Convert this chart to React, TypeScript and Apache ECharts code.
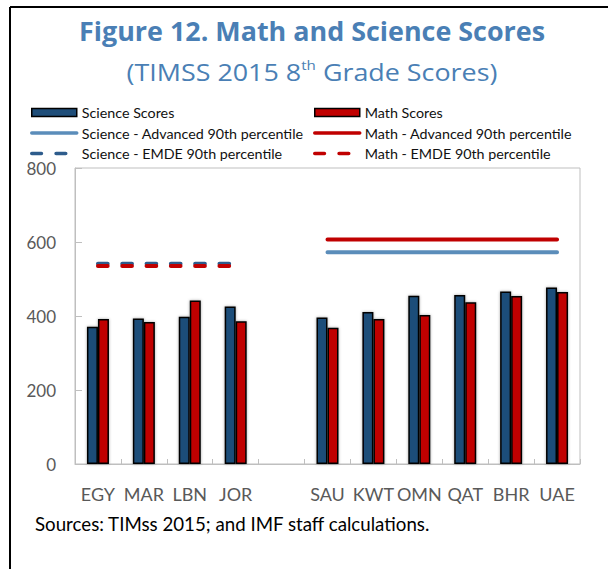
import React, { useEffect, useRef } from "react";
import * as echarts from "echarts";

const categories = ["EGY", "MAR", "LBN", "JOR", "", "SAU", "KWT", "OMN", "QAT", "BHR", "UAE"];
const scienceScores = [371, 393, 398, 426, null, 396, 411, 455, 457, 466, 477];
const mathScores = [392, 384, 442, 386, null, 368, 392, 403, 437, 454, 465];
const scienceAdvanced = [null, null, null, null, null, 572, 572, 572, 572, 572, 572];
const mathAdvanced = [null, null, null, null, null, 607, 607, 607, 607, 607, 607];
const scienceEmde = [541, 541, 541, 541, null, null, null, null, null, null, null];
const mathEmde = [535, 535, 535, 535, null, null, null, null, null, null, null];
const yTicks = { min: 0, max: 800, interval: 200 };

const NAVY = "#1F4E79";
const RED = "#C00000";
const STEEL = "#5B8DBA";
const EMDE_BLUE = "#2E5C8C";
const TITLE = "#4A7FB5";
const FONT = "Lato, 'Noto Sans', sans-serif";
const TFONT = "'Open Sans', 'Noto Sans', sans-serif";

export default function App() {
  const ref = useRef<HTMLDivElement>(null);
  useEffect(() => {
    if (!ref.current) return;
    const chart = echarts.init(ref.current, undefined, { renderer: "svg" });
    const barStyle = (c: string) => ({
      color: c,
      borderColor: "#000",
      borderWidth: 1.5,
      shadowBlur: 3,
      shadowColor: "rgba(0,0,0,0.35)",
    });
    const dash = [9.7, 14.6];
    const hideSym = { opacity: 0 };
    const legendCommon = {
      orient: "vertical" as const,
      top: 102.5,
      padding: 0,
      itemWidth: 45,
      itemHeight: 8,
      itemGap: 0.5,
      selectedMode: false,
      lineStyle: { width: 3.5 },
      textStyle: { fontFamily: FONT, fontSize: 14.3, color: "#111", lineHeight: 20, padding: [0, 0, 0, 0] },
    };
    chart.setOption({
      animation: false,
      textStyle: { fontFamily: FONT },
      grid: {
        left: 75,
        right: 28,
        top: 168,
        bottom: 105,
        show: true,
        borderColor: "#BFBFBF",
        borderWidth: 1,
      },
      legend: [
        {
          ...legendCommon,
          left: 30,
          data: [
            { name: "Science Scores", icon: "rect", itemStyle: { color: NAVY, borderColor: "#000", borderWidth: 1.5 } },
            { name: "Science - Advanced 90th percentile", itemStyle: hideSym },
            { name: "Science - EMDE 90th percentile", itemStyle: hideSym },
          ],
        },
        {
          ...legendCommon,
          left: 313,
          data: [
            { name: "Math Scores", icon: "rect", itemStyle: { color: RED, borderColor: "#000", borderWidth: 1.5 } },
            { name: "Math - Advanced 90th percentile", itemStyle: hideSym },
            { name: "Math - EMDE 90th percentile", itemStyle: hideSym },
          ],
        },
      ],
      xAxis: {
        type: "category",
        data: categories,
        axisLine: { lineStyle: { color: "#BFBFBF", width: 1 } },
        axisTick: { show: true, inside: true, length: 5, interval: 0, lineStyle: { color: "#BFBFBF" } },
        axisLabel: { interval: 0, fontSize: 18, color: "#595959", margin: 21, fontFamily: FONT },
      },
      yAxis: {
        type: "value",
        min: yTicks.min,
        max: yTicks.max,
        interval: yTicks.interval,
        axisLine: { show: true, lineStyle: { color: "#BFBFBF", width: 1 } },
        axisTick: { show: true, inside: true, length: 7, lineStyle: { color: "#BFBFBF" } },
        splitLine: { show: false },
        axisLabel: { fontSize: 17, color: "#595959", margin: 19, fontFamily: FONT },
      },
      series: [
        {
          name: "Science Scores",
          type: "bar",
          data: scienceScores,
          barWidth: 11,
          barGap: "0%",
          itemStyle: barStyle(NAVY),
        },
        {
          name: "Math Scores",
          type: "bar",
          data: mathScores,
          barWidth: 11,
          barGap: "0%",
          itemStyle: barStyle(RED),
        },
        {
          name: "Science - Advanced 90th percentile",
          type: "line",
          data: scienceAdvanced,
          symbol: "none",
          showSymbol: false,
          connectNulls: false,
          lineStyle: { color: STEEL, width: 4, cap: "round" },
          itemStyle: { color: STEEL },
        },
        {
          name: "Math - Advanced 90th percentile",
          type: "line",
          data: mathAdvanced,
          symbol: "none",
          showSymbol: false,
          connectNulls: false,
          lineStyle: { color: RED, width: 4, cap: "round" },
          itemStyle: { color: RED },
        },
        {
          name: "Science - EMDE 90th percentile",
          type: "line",
          data: scienceEmde,
          symbol: "none",
          showSymbol: false,
          connectNulls: false,
          lineStyle: { color: EMDE_BLUE, width: 4, cap: "round", type: dash },
          itemStyle: { color: EMDE_BLUE },
        },
        {
          name: "Math - EMDE 90th percentile",
          type: "line",
          data: mathEmde,
          symbol: "none",
          showSymbol: false,
          connectNulls: false,
          lineStyle: { color: RED, width: 4, cap: "round", type: dash },
          itemStyle: { color: RED },
        },
      ],
      graphic: [
        { type: "line", shape: { x1: 10, y1: 7, x2: 608, y2: 7 }, style: { stroke: "#000", lineWidth: 2 }, silent: true },
        { type: "line", shape: { x1: 10, y1: 7, x2: 10, y2: 569 }, style: { stroke: "#000", lineWidth: 2 }, silent: true },
        {
          type: "text",
          x: 312,
          y: 31,
          scaleX: 1.035,
          style: {
            text: "Figure 12. Math and Science Scores",
            fontFamily: TFONT,
            fontSize: 26,
            fontWeight: "bold",
            fill: TITLE,
            align: "center",
            verticalAlign: "middle",
          },
        },
        {
          type: "text",
          x: 312,
          y: 72,
          scaleX: 1.12,
          style: {
            text: "(TIMSS 2015 8{sup|th} Grade Scores)",
            fontFamily: TFONT,
            fontSize: 24,
            fill: TITLE,
            align: "center",
            verticalAlign: "middle",
            rich: {
              sup: { fontSize: 13.5, fill: TITLE, fontFamily: TFONT, verticalAlign: "top", lineHeight: 29 },
            },
          },
        },
        {
          type: "text",
          x: 35,
          y: 524,
          style: {
            text: "Sources: TIMss 2015; and IMF staff calculations.",
            fontFamily: FONT,
            fontSize: 18.7,
            fill: "#000",
            align: "left",
            verticalAlign: "middle",
          },
        },
      ],
    });
    return () => chart.dispose();
  }, []);
  return <div ref={ref} style={{ position: "absolute", left: 0, top: 0, width: 608, height: 569 }} />;
}
